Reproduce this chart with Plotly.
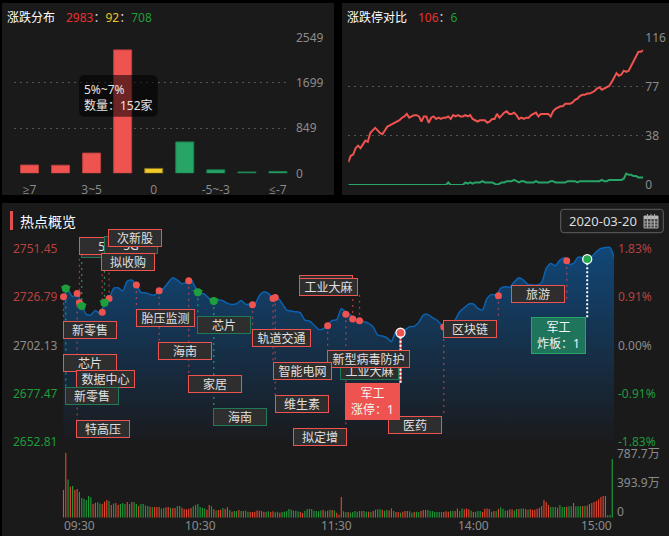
import plotly.graph_objects as go

W, H = 669, 536
FONT = "Noto Sans, Noto Sans CJK SC, sans-serif"

# ---------- distribution panel ----------
dist_categories = ["≥7", "5~7", "3~5", "0~3", "0", "-3~0", "-5~-3", "-7~-5", "≤-7"]
dist_values = [155, 152, 380, 2320, 92, 590, 65, 25, 35]
dist_colors = ["#ef5350"] * 4 + ["#f0ca28"] + ["#26a566"] * 4
dist_edges = ["#b8403e"] * 4 + ["#8a7420"] + ["#1d7a4c"] * 4
dist_shown_ticks = ["≥7", "3~5", "0", "-5~-3", "≤-7"]
dist_y_ticks = [0, 849.67, 1699.33, 2549]
dist_y_text = ["0", "849", "1699", "2549"]

# ---------- limit up / down panel (every 2 minutes) ----------
limit_up = [
    18, 23, 24, 29, 31, 29, 32, 35, 34, 41,
    43, 45, 43, 41, 40, 43, 46, 47, 48, 49,
    50, 51, 53, 54, 56, 53, 54, 55, 55, 54,
    50, 54, 54, 49, 53, 54, 52, 53, 52, 53,
    53, 54, 52, 55, 54, 55, 54, 54, 55, 54,
    55, 52, 51, 50, 51, 51, 51, 49, 50, 52,
    52, 56, 53, 55, 57, 58, 56, 56, 57, 55,
    52, 53, 52, 53, 53, 55, 56, 57, 54, 56,
    56, 56, 56, 54, 58, 60, 61, 62, 62, 64,
    64, 64, 65, 67, 68, 70, 71, 71, 72, 72,
    73, 74, 76, 77, 75, 76, 77, 78, 81, 84,
    88, 86, 87, 90, 89, 90, 94, 98, 101, 105,
    105, 106,
]
limit_down = [
    0, 0, 0, 0, 0, 0, 0, 0, 0, 0,
    0, 0, 0, 0, 0, 0, 0, 0, 0, 0,
    0, 0, 0, 0, 0, 0, 0, 0, 0, 0,
    0, 0, 0, 0, 0, 0, 0, 0, 0, 0,
    0, 2, 0, 0, 0, 0, 0, 0, 2, 1,
    2, 1, 2, 2, 2, 3, 2, 2, 2, 2,
    1, 0, 1, 2, 2, 3, 3, 3, 4, 3,
    2, 3, 3, 2, 2, 2, 2, 3, 2, 2,
    2, 2, 2, 3, 3, 2, 2, 2, 2, 2,
    3, 3, 3, 3, 2, 3, 3, 3, 3, 3,
    3, 3, 3, 3, 4, 3, 3, 4, 4, 4,
    4, 4, 4, 5, 9, 8, 8, 7, 7, 6,
    6, 6,
]
limit_y_ticks = [0, 38.67, 77.33, 116]
limit_y_text = ["0", "38", "77", "116"]

# ---------- index line (every 2 minutes) ----------
index_prices = [
    2726.76, 2730.16, 2726.76, 2728.46, 2722.52, 2717.77, 2717.43, 2719.80, 2718.27, 2723.37,
    2725.92, 2731.01, 2731.35, 2729.65, 2734.75, 2735.26, 2732.71, 2728.97, 2728.80, 2727.95,
    2727.61, 2729.65, 2731.01, 2734.07, 2736.44, 2735.26, 2733.39, 2734.07, 2735.42, 2731.35,
    2728.97, 2727.95, 2725.92, 2724.56, 2725.07, 2724.73, 2723.37, 2722.86, 2723.20, 2724.90,
    2722.86, 2723.03, 2722.86, 2727.27, 2729.31, 2728.46, 2725.92, 2726.43, 2723.37, 2719.97,
    2719.46, 2719.12, 2718.61, 2714.88, 2714.37, 2712.33, 2710.12, 2710.29, 2712.67, 2714.71,
    2715.05, 2720.82, 2718.78, 2717.43, 2715.39, 2714.88, 2714.03, 2713.18, 2711.31, 2707.24,
    2706.73, 2705.88, 2703.84, 2708.94, 2708.43, 2709.78, 2711.48, 2711.65, 2713.69, 2717.43,
    2717.77, 2716.07, 2714.88, 2712.33, 2710.97, 2711.99, 2714.88, 2719.12, 2721.16, 2723.03,
    2723.03, 2720.82, 2719.97, 2725.92, 2727.95, 2727.61, 2731.01, 2731.86, 2731.52, 2734.41,
    2736.44, 2735.26, 2733.05, 2732.71, 2732.71, 2734.07, 2741.20, 2743.74, 2742.56, 2745.44,
    2746.63, 2743.24, 2743.74, 2746.97, 2746.63, 2745.44, 2747.14, 2749.69, 2751.39, 2751.90,
    2751.90, 2746.29,
]
price_ticks = [2751.45, 2726.79, 2702.13, 2677.47, 2652.81]
price_text = ["2751.45", "2726.79", "2702.13", "2677.47", "2652.81"]
pct_text = ["1.83%", "0.91%", "0.00%", "-0.91%", "-1.83%"]

# ---------- hot-topic marks on the index line ----------
mark_minutes = [0, 1, 6, 7, 8, 17, 18, 20, 32, 42, 55, 59, 66, 83, 92, 93, 116, 124, 127, 130, 148, 167, 191, 221, 230]
mark_prices = [2726.77, 2731.0, 2728.46, 2723.7, 2722.0, 2718.8, 2723.7, 2725.8, 2732.7, 2729.8, 2734.9, 2729.0,
               2724.6, 2722.7, 2725.9, 2726.4, 2712.0, 2717.8, 2715.4, 2714.5, 2708.4, 2711.3, 2727.3, 2745.1, 2745.9]
mark_kinds = ["up", "down", "up", "up", "down", "up", "down", "up", "up", "up", "up", "down",
              "down", "up", "up", "up", "up", "up", "up", "up", "limit", "up", "up", "up", "open"]

# ---------- volume per minute, in 万 ----------
vol_values = [
    371, 867, 514, 416, 425, 371, 384, 344, 264, 255,
    237, 291, 273, 183, 201, 206, 192, 183, 215, 237,
    224, 170, 192, 197, 170, 183, 197, 183, 210, 183,
    210, 210, 183, 156, 183, 183, 165, 156, 148, 139,
    143, 143, 143, 125, 130, 139, 143, 134, 130, 130,
    156, 156, 134, 116, 112, 121, 130, 152, 170, 183,
    143, 134, 125, 107, 170, 152, 112, 98, 103, 107,
    130, 116, 139, 103, 80, 89, 89, 103, 89, 89,
    98, 80, 76, 76, 80, 98, 94, 89, 80, 80,
    85, 76, 85, 72, 80, 67, 76, 80, 89, 116,
    107, 98, 94, 85, 76, 63, 89, 112, 121, 116,
    94, 89, 85, 98, 107, 85, 94, 107, 103, 98,
    67, 40, 277, 85, 72, 76, 67, 76, 89, 80,
    89, 89, 89, 80, 80, 76, 89, 107, 112, 112,
    107, 94, 103, 98, 125, 89, 76, 76, 67, 80,
    89, 89, 85, 67, 76, 80, 76, 89, 103, 103,
    103, 89, 89, 80, 76, 76, 76, 76, 85, 80,
    89, 89, 89, 125, 89, 125, 112, 125, 112, 94,
    76, 80, 89, 89, 76, 121, 125, 116, 80, 89,
    89, 116, 139, 121, 98, 98, 112, 112, 98, 116,
    116, 125, 125, 116, 107, 116, 107, 107, 121, 134,
    156, 237, 210, 170, 143, 143, 143, 134, 170, 143,
    143, 148, 152, 152, 197, 152, 152, 152, 156, 156,
    165, 183, 197, 210, 224, 246, 277, 291, 291, 36,
    36, 787.7,
]
vol_dirs = (
    "rrgrgrrggg" "gggrrggrrr" "grgrrgggrg" "rggrggggrg" "rrrggrrgrr"
    "ggrrrrrggg" "gggrrgrgrr" "grrgrggrgr" "ggrrrrrrrg" "grrggrgggg"
    "ggggrrgggg" "ggggrgrgrg" "rrrggrgggg" "grggrgrggg" "rggrrgrrgr"
    "rrggrggrrr" "gggggggrrr" "ggrrggrrrg" "rgggrrrrgr" "grgggrrrgg"
    "rggrgrrrrr" "rrrrgggrgg" "grggrgggrg" "rrrrrrrrrg" "gg"
)
time_labels = ["09:30", "10:30", "11:30", "14:00", "15:00"]
time_minutes = [0, 60, 120, 180, 240]
vol_ticks_text = ["787.7万", "393.9万", "0"]

# ---------- layout helpers (pixel -> paper / axis) ----------
def px(x):
    return x / W

def py(y):
    return 1 - y / H

def dom_x(a, b):
    return [a / W, b / W]

def dom_y(top, bottom):
    return [1 - bottom / H, 1 - top / H]

def price_at(y):
    return 2702.13 + (345 - y) * 0.5095

PANEL = "#1a1a1a"
GRID = "#555555"
GRAY = "#8c8c8c"
RED = "#ef5350"
GREEN = "#26a566"
TXT_RED = "#b5423f"
TXT_GREEN = "#1f9c3a"
BAR_UP = "rgba(232,69,47,0.99)"
BAR_DOWN = "rgba(30,155,58,0.99)"

fig = go.Figure()

# distribution bars
fig.add_trace(go.Bar(
    x=dist_categories, y=dist_values, xaxis="x", yaxis="y", width=0.58,
    marker=dict(color=dist_colors, line=dict(color=dist_edges, width=1)),
    hoverinfo="skip",
))

# limit lines
limit_x = [2 * i for i in range(len(limit_up))]
fig.add_trace(go.Scatter(x=limit_x, y=limit_up, xaxis="x2", yaxis="y2", mode="lines",
                         line=dict(color=RED, width=2), hoverinfo="skip"))
fig.add_trace(go.Scatter(x=limit_x, y=limit_down, xaxis="x2", yaxis="y2", mode="lines",
                         line=dict(color=GREEN, width=2), hoverinfo="skip"))

# index area
index_x = [2 * i for i in range(len(index_prices))]
fig.add_trace(go.Scatter(
    x=index_x, y=index_prices, xaxis="x3", yaxis="y3", mode="lines",
    line=dict(color="#0b62b0", width=1.5, shape="spline", smoothing=0.6),
    fill="tozeroy",
    fillgradient=dict(type="vertical", start=2752, stop=2654,
                      colorscale=[[0, "#114778"], [1, "#1a1b1e"]]),
    hoverinfo="skip",
))

# connectors: pixel end of each mark's dotted line at its label edge
connector_ends = [321.3, 387.3, 420.3, 254, 257.3, 270.3, 253.3, 246.7, 309.3, 342.3, 375.3, 316.3,
                  408.3, 329.3, 362.3, 395.3, 350.3, 428.3, 295.7, 292.7, 383, 416.3, 320.3, 302.7, 318]
def connector_trace(kinds, color, width, dash):
    xs, ys = [], []
    for m, p, k, e in zip(mark_minutes, mark_prices, mark_kinds, connector_ends):
        if k in kinds:
            xs += [m, m, None]
            ys += [p, price_at(e), None]
    return go.Scatter(x=xs, y=ys, xaxis="x3", yaxis="y3", mode="lines", cliponaxis=False,
                      line=dict(color=color, width=width, dash=dash), hoverinfo="skip")
fig.add_trace(connector_trace({"up"}, "rgba(239,83,80,0.62)", 1.3, "2px,4px"))
fig.add_trace(connector_trace({"down"}, "rgba(38,165,102,0.85)", 1.3, "2px,4px"))
fig.add_trace(connector_trace({"limit"}, RED, 2, "solid"))
fig.add_trace(connector_trace({"limit", "open"}, "#ffffff", 2, "2px,2px"))

def marks(kinds):
    sel = [(m, p) for m, p, k in zip(mark_minutes, mark_prices, mark_kinds) if k in kinds]
    return [s[0] for s in sel], [s[1] for s in sel]

mx, my = marks({"up"})
fig.add_trace(go.Scatter(x=mx, y=my, xaxis="x3", yaxis="y3", mode="markers", cliponaxis=False,
                         marker=dict(color=RED, size=7), hoverinfo="skip"))
mx, my = marks({"down"})
fig.add_trace(go.Scatter(x=mx, y=my, xaxis="x3", yaxis="y3", mode="markers", cliponaxis=False,
                         marker=dict(color="#1f9e3e", size=8, symbol="circle"), hoverinfo="skip"))
fig.add_trace(go.Scatter(x=mx, y=my, xaxis="x3", yaxis="y3", mode="markers", cliponaxis=False,
                         marker=dict(color="#1f9e3e", size=9, symbol="triangle-down"), hoverinfo="skip"))
mx, my = marks({"limit"})
fig.add_trace(go.Scatter(x=mx, y=my, xaxis="x3", yaxis="y3", mode="markers", cliponaxis=False,
                         marker=dict(color=RED, size=9, line=dict(color="#ffffff", width=1.3)), hoverinfo="skip"))
mx, my = marks({"open"})
fig.add_trace(go.Scatter(x=mx, y=my, xaxis="x3", yaxis="y3", mode="markers", cliponaxis=False,
                         marker=dict(color="#27a84f", size=9, line=dict(color="#ffffff", width=1.3)), hoverinfo="skip"))

# volume
fig.add_trace(go.Bar(
    x=list(range(len(vol_values))), y=vol_values, xaxis="x3", yaxis="y4", width=0.5,
    marker=dict(color=[BAR_UP if d == "r" else BAR_DOWN for d in vol_dirs], line=dict(width=0)),
    hoverinfo="skip",
))

axis_font = dict(family=FONT, size=12, color=GRAY)
dist_tick_font = dict(family="Open Sans, Noto Sans CJK SC, sans-serif", size=12, color=GRAY)

# ---------- annotations ----------
ann = []
LEFT_PAD = 1.7   # plotly's own inset for left-anchored annotation text
def text(x, y, s, size=12, color=GRAY, xanchor="left", yanchor="middle", **kw):
    ann.append(dict(xref="paper", yref="paper", x=px(x - LEFT_PAD), y=py(y), text=s, showarrow=False,
                    xanchor=xanchor, yanchor=yanchor, font=dict(family=FONT, size=size, color=color),
                    borderpad=0, **kw))

text(8, 17.5, "涨跌分布", color="#ffffff")
text(66.5, 17.5, "<span style='color:#e8302f'>2983</span><span style='color:#dddddd'>：</span>"
     "<span style='color:#eec32c'>92</span><span style='color:#dddddd'>：</span>"
     "<span style='color:#1f9c3a'>708</span>")
text(348, 17.5, "涨跌停对比", color="#ffffff")
text(418.5, 17.5, "<span style='color:#e8302f'>106</span><span style='color:#dddddd'>：</span>"
     "<span style='color:#1f9c3a'>6</span>")
text(21, 221, "热点概览", size=14, color="#ffffff")
text(570, 221, "2020-03-20", size=13, color="#dddddd")

# tooltip text
text(84.5, 89, "5%~7%", color="#e4e4e4")
text(84.5, 105, "数量：152家", color="#e4e4e4")

# price axis labels, placed on the price scale
price_colors = [TXT_RED, TXT_RED, GRAY, TXT_GREEN, TXT_GREEN]
for p, t, q, c in zip(price_ticks, price_text, pct_text, price_colors):
    ann.append(dict(xref="paper", yref="y3", x=px(13 - LEFT_PAD), y=p, text=t, showarrow=False, xanchor="left",
                    yanchor="middle", font=dict(family=FONT, size=12, color=c)))
    ann.append(dict(xref="paper", yref="y3", x=px(618 - LEFT_PAD), y=p, text=q, showarrow=False, xanchor="left",
                    yanchor="middle", font=dict(family=FONT, size=12, color=c)))

for t, m in zip(time_labels, time_minutes):
    anchor = "left" if t == "09:30" else ("right" if t == "15:00" else "center")
    xpos = m if t != "09:30" else -0.6
    if t == "15:00":
        xpos = 241.7
    ann.append(dict(xref="x3", yref="paper", x=xpos, y=py(525.7), text=t, showarrow=False, xanchor=anchor,
                    yanchor="middle", font=dict(family=FONT, size=12, color=GRAY)))

for t, y in zip(vol_ticks_text, [453, 482.3, 511.7]):
    text(618, y, t)

# topic labels: (text, centre x, centre y, width, style), later entries sit on top
labels = [
    ("5G", 107.7, 248.7, 53, "g"),
    ("5G", 106, 245.7, 53, "r"),
    ("5G", 131, 245, 53, "g"),
    ("次新股", 135, 238, 53, "r"),
    ("拟收购", 128, 262, 53, "r"),
    ("新零售", 90, 330, 53, "r"),
    ("胎压监测", 165.2, 318, 58, "r"),
    ("芯片", 224, 325, 53, "g"),
    ("海南", 185, 351, 53, "r"),
    ("芯片", 90, 363, 53, "r"),
    ("数据中心", 105.5, 379, 58, "r"),
    ("新零售", 92, 396, 53, "g"),
    ("家居", 215, 384, 53, "r"),
    ("海南", 240, 417, 53, "g"),
    ("特高压", 103, 429, 53, "r"),
    ("轨道交通", 281.2, 338, 58, "r"),
    ("工业大麻", 326, 284, 53, "r"),
    ("工业大麻", 328.2, 287, 58, "r"),
    ("工业大麻", 369.7, 371.3, 58, "g"),
    ("新型病毒防护", 368.3, 359.3, 82, "r"),
    ("智能电网", 302.5, 371.3, 58, "r"),
    ("维生素", 302, 404, 53, "r"),
    ("拟定增", 320, 437, 53, "r"),
    ("医药", 415, 425.3, 53, "r"),
    ("区块链", 470, 329, 53, "r"),
    ("旅游", 538.3, 294, 53, "r"),
]
for t, cx, cy, w, st in labels:
    ann.append(dict(xref="paper", yref="paper", x=px(cx), y=py(cy), text=t, showarrow=False,
                    xanchor="center", yanchor="middle", width=w - 1, height=16, align="center", valign="middle",
                    bgcolor="#2e2e2e", bordercolor=RED if st == "r" else "#1f7a55", borderwidth=1, borderpad=0,
                    font=dict(family=FONT, size=12, color="#e0e0e0")))
for t, cx, cy, bg, bd in [("军工<br>涨停：1", 372.7, 401, RED, RED),
                          ("军工<br>炸板：1", 558.8, 335.3, "#1f755b", "#26a566")]:
    ann.append(dict(xref="paper", yref="paper", x=px(cx), y=py(cy), text=t, showarrow=False,
                    xanchor="center", yanchor="middle", width=53, height=35, align="center", valign="middle",
                    bgcolor=bg, bordercolor=bd, borderwidth=1, borderpad=0,
                    font=dict(family=FONT, size=12, color="#f4f4f4")))

# ---------- shapes ----------
def rect(x0, y0, x1, y1, fill, line=None, layer="below", lw=1):
    return dict(type="rect", xref="paper", yref="paper", x0=px(x0), x1=px(x1), y0=py(y0), y1=py(y1),
                fillcolor=fill, line=dict(color=line or "rgba(0,0,0,0)", width=lw if line else 0), layer=layer)

def round_path(x0, y0, x1, y1, r):
    X0, X1, Y0, Y1, RX, RY = px(x0), px(x1), py(y0), py(y1), r / W, r / H
    return (f"M {X0 + RX} {Y0} L {X1 - RX} {Y0} Q {X1} {Y0} {X1} {Y0 - RY} L {X1} {Y1 + RY} Q {X1} {Y1} {X1 - RX} {Y1} "
            f"L {X0 + RX} {Y1} Q {X0} {Y1} {X0} {Y1 + RY} L {X0} {Y0 - RY} Q {X0} {Y0} {X0 + RX} {Y0} Z")

shapes = [
    rect(2, 3, 334, 195, PANEL),
    rect(342, 3, 669, 195, PANEL),
    rect(2, 203, 669, 536, PANEL),
    rect(10, 211, 13, 230, "#e0504e"),
    dict(type="path", xref="paper", yref="paper", path=round_path(560.7, 209.3, 663.3, 232.7, 3),
         fillcolor="#1f1f1f", line=dict(color="#5f5f5f", width=1), layer="below"),
    dict(type="path", xref="paper", yref="paper", path=round_path(79, 75, 157.7, 116.7, 6),
         fillcolor="rgba(0,0,0,0.55)", line=dict(width=0), layer="above"),
    rect(644, 216, 658, 228, "rgba(170,170,170,0.3)", "#a8a8a8", layer="above"),
    rect(644, 216, 658, 219, "#b8b8b8", layer="above"),
]
for gy in [222, 225]:
    shapes.append(dict(type="line", xref="paper", yref="paper", x0=px(644), x1=px(658), y0=py(gy), y1=py(gy),
                       line=dict(color="#a8a8a8", width=1), layer="above"))
for gx in [647.5, 651, 654.5]:
    shapes.append(dict(type="line", xref="paper", yref="paper", x0=px(gx), x1=px(gx), y0=py(214), y1=py(228),
                       line=dict(color="#a8a8a8", width=1), layer="above"))

fig.update_layout(
    width=W, height=H, margin=dict(l=0, r=0, t=0, b=0, pad=0, autoexpand=False),
    paper_bgcolor="#000000", plot_bgcolor="rgba(0,0,0,0)",
    showlegend=False, barmode="overlay", font=dict(family=FONT, size=12),
    shapes=shapes, annotations=ann,
    xaxis=dict(domain=dom_x(14, 289), anchor="y", type="category", categoryorder="array",
               categoryarray=dist_categories, range=[-0.5, 8.357], tickmode="array", tickvals=dist_shown_ticks,
               ticktext=dist_shown_ticks, showgrid=False, zeroline=False, showline=False, ticks="",
               tickfont=dist_tick_font, ticklabelstandoff=8),
    yaxis=dict(domain=dom_y(37.7, 173.3), anchor="x", side="right", range=[0, 2549], tickmode="array",
               tickvals=dist_y_ticks, ticktext=dist_y_text, showgrid=True, gridcolor=GRID, griddash="2px,4px",
               gridwidth=1, zeroline=False, showline=False, ticks="", tickfont=axis_font, ticklabelstandoff=6),
    xaxis2=dict(domain=dom_x(348.3, 643.3), anchor="y2", range=[0, 242], visible=False),
    yaxis2=dict(domain=dom_y(37.7, 185), anchor="x2", side="right", range=[0, 116], tickmode="array",
                tickvals=limit_y_ticks, ticktext=limit_y_text, showgrid=True, gridcolor=GRID, griddash="2px,4px",
                gridwidth=1, zeroline=False, showline=False, ticks="", tickfont=axis_font, ticklabelstandoff=1),
    xaxis3=dict(domain=dom_x(62, 614), anchor="y3", range=[-0.66, 241.76], visible=False),
    yaxis3=dict(domain=dom_y(240, 441.8), anchor="x3", range=[2652.81, 2755.68], visible=False),
    yaxis4=dict(domain=dom_y(451, 517.7), anchor="x3", range=[0, 895], visible=False),
)

fig.write_html("out.html", config=dict(displayModeBar=False),
               post_script="document.body.style.margin='0';document.body.style.background='#000';")
